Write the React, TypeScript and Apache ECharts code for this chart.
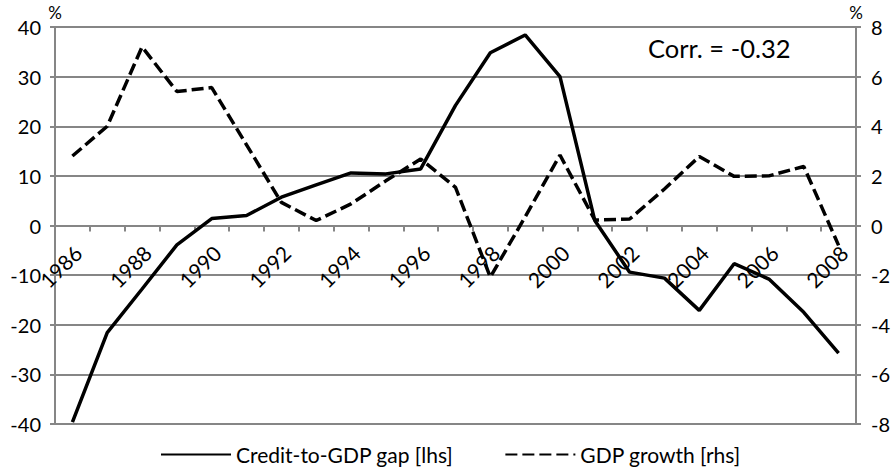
import React, { useEffect, useRef } from "react";
import * as echarts from "echarts";

const years = ["1986","1987","1988","1989","1990","1991","1992","1993","1994","1995","1996","1997","1998","1999","2000","2001","2002","2003","2004","2005","2006","2007","2008"];
const creditGap = [-39.6, -21.6, -12.8, -3.9, 1.4, 2.0, 5.7, 8.2, 10.6, 10.4, 11.4, 24.2, 34.8, 38.4, 30.0, 1.0, -9.4, -10.6, -17.1, -7.7, -10.8, -17.5, -25.7];
const gdpGrowth = [2.8, 4.0, 7.2, 5.4, 5.56, 3.25, 0.93, 0.2, 0.87, 1.8, 2.68, 1.54, -2.08, 0.35, 2.84, 0.22, 0.26, 1.47, 2.78, 1.98, 2.0, 2.38, -0.8];
const leftTicks = { min: -40, max: 40, interval: 10 };
const rightTicks = { min: -8, max: 8, interval: 2 };
const seriesNames = ["Credit-to-GDP gap [lhs]", "GDP growth [rhs]"];
const corrText = "Corr. = -0.32";

const FONT = "Lato";
const GRAY = "#868686";
const GRID_TOP = 27;
const GRID_BOTTOM = 51;
const HEIGHT = 475;

export default function App() {
  const ref = useRef<HTMLDivElement>(null);
  useEffect(() => {
    if (!ref.current) return;
    const chart = echarts.init(ref.current, null, { renderer: "svg" });
    const plotH = HEIGHT - GRID_TOP - GRID_BOTTOM;
    // move the category axis up to the zero line of the left axis
    const zeroOffset = -plotH * ((0 - leftTicks.min) / (leftTicks.max - leftTicks.min));
    chart.setOption({
      animation: false,
      textStyle: { fontFamily: FONT },
      grid: { left: 55, right: 36, top: GRID_TOP, bottom: GRID_BOTTOM, containLabel: false, outerBoundsMode: "none" },
      legend: {
        bottom: 5,
        left: 155,
        itemWidth: 70,
        itemHeight: 14,
        itemGap: 51,
        itemStyle: { opacity: 0 },
        textStyle: { fontFamily: FONT, fontSize: 21, color: "#000" },
        data: seriesNames,
      },
      xAxis: {
        type: "category",
        data: years,
        boundaryGap: true,
        offset: zeroOffset,
        axisLine: { onZero: false, lineStyle: { color: GRAY, width: 2 } },
        axisTick: { show: true, interval: 0, length: 6, lineStyle: { color: GRAY, width: 2 } },
        axisLabel: {
          interval: 1,
          rotate: 45,
          margin: 14,
          align: "right",
          verticalAlign: "top",
          padding: [0, 3, 0, 0],
          fontFamily: FONT,
          fontSize: 21,
          color: "#000",
        },
        splitLine: { show: false },
      },
      yAxis: [
        {
          type: "value",
          ...leftTicks,
          name: "%",
          nameLocation: "end",
          nameGap: 6,
          nameTextStyle: { fontFamily: FONT, fontSize: 17, color: "#000", align: "center" },
          axisLine: { show: true, onZero: false, lineStyle: { color: GRAY, width: 2 } },
          axisTick: { show: true, length: 5, lineStyle: { color: GRAY, width: 2 } },
          axisLabel: { margin: 14, fontFamily: FONT, fontSize: 20, color: "#000" },
          splitLine: { show: true, lineStyle: { color: GRAY, width: 2 } },
        },
        {
          type: "value",
          ...rightTicks,
          position: "right",
          name: "%",
          nameLocation: "end",
          nameGap: 6,
          nameTextStyle: { fontFamily: FONT, fontSize: 17, color: "#000", align: "center" },
          axisLine: { show: true, onZero: false, lineStyle: { color: GRAY, width: 2 } },
          axisTick: { show: true, length: 5, lineStyle: { color: GRAY, width: 2 } },
          axisLabel: { margin: 15, fontFamily: FONT, fontSize: 20, color: "#000" },
          splitLine: { show: false },
        },
      ],
      series: [
        {
          name: seriesNames[0],
          type: "line",
          yAxisIndex: 0,
          data: creditGap,
          symbol: "none",
          lineStyle: { color: "#000", width: 3.5, type: "solid" },
          itemStyle: { color: "#000" },
        },
        {
          name: seriesNames[1],
          type: "line",
          yAxisIndex: 1,
          data: gdpGrowth,
          symbol: "none",
          lineStyle: { color: "#000", width: 3.5, type: [12, 5] },
          itemStyle: { color: "#000" },
        },
      ],
      graphic: [
        {
          type: "text",
          left: 648,
          top: 35,
          style: { text: corrText, fontFamily: FONT, fontSize: 25.5, fill: "#000" },
        },
      ],
    });
    return () => chart.dispose();
  }, []);
  return <div ref={ref} style={{ width: 892, height: 475, position: "absolute", left: 0, top: 0 }} />;
}
